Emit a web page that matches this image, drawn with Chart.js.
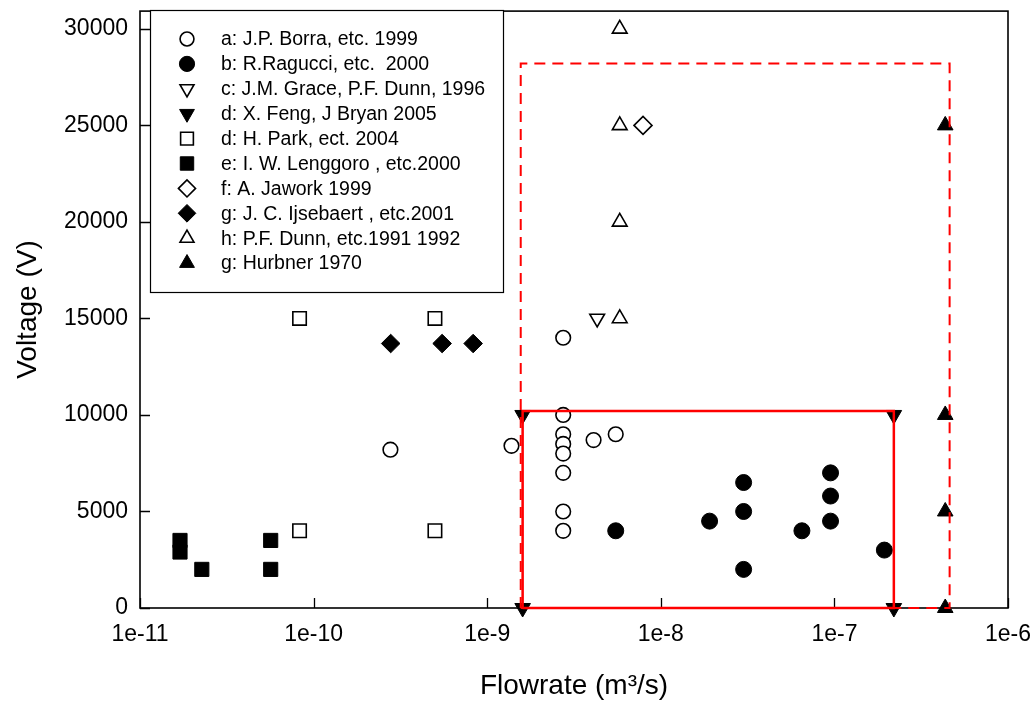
<!DOCTYPE html>
<html>
<head>
<meta charset="utf-8">
<script src="https://cdn.jsdelivr.net/npm/chart.js@4.4.1/dist/chart.umd.min.js"></script>
<style>
  html, body { margin: 0; padding: 0; background: #fff; }
  #wrap { width: 1036px; height: 708px; }
</style>
</head>
<body>
<div id="wrap"><canvas id="chart"></canvas></div>
<script>
// values: flowrate in m3/s, voltage in V
var borraX = [2.77e-10, 1.38e-9, 2.74e-9, 2.74e-9, 2.74e-9, 2.74e-9, 2.74e-9, 2.74e-9, 2.74e-9, 2.74e-9, 4.1e-9, 5.5e-9];
var borraY = [8200, 8400, 14000, 10000, 9000, 8500, 8000, 7000, 5000, 4000, 8700, 9000];
var raguX = [5.5e-9, 1.91e-8, 3.0e-8, 3.0e-8, 3.0e-8, 6.5e-8, 9.5e-8, 9.5e-8, 9.5e-8, 1.94e-7];
var raguY = [4000, 4500, 6500, 5000, 2000, 4000, 7000, 5800, 4500, 3000];
var graceX = [4.3e-9];
var graceY = [15000];
var fengX = [1.6e-9, 1.6e-9, 2.2e-7, 2.2e-7];
var fengY = [0, 10000, 10000, 0];
var parkX = [8.3e-11, 5.0e-10, 8.3e-11, 5.0e-10];
var parkY = [15000, 15000, 4000, 4000];
var lengX = [1.7e-11, 1.7e-11, 2.27e-11, 5.66e-11, 5.66e-11];
var lengY = [3500, 2900, 2000, 3500, 2000];
var jaworkX = [7.9e-9];
var jaworkY = [25000];
var ijseX = [2.78e-10, 5.5e-10, 8.3e-10];
var ijseY = [13700, 13700, 13700];
var dunnX = [5.8e-9, 5.8e-9, 5.8e-9, 5.8e-9];
var dunnY = [30000, 25000, 20000, 15000];
var hurbX = [4.35e-7, 4.35e-7, 4.35e-7, 4.35e-7];
var hurbY = [25000, 10000, 5000, 0];

// the two red regions (corners in data units)
var solidBoxX = [1.6e-9, 2.2e-7];
var solidBoxY = [0, 10200];
var dashBoxX = [1.56e-9, 4.61e-7];
var dashBoxY = [0, 28200];

var xTicks = [1e-11, 1e-10, 1e-9, 1e-8, 1e-7, 1e-6];
var xTickLabels = ['1e-11', '1e-10', '1e-9', '1e-8', '1e-7', '1e-6'];
var yTicks = [0, 5000, 10000, 15000, 20000, 25000, 30000];

var seriesNames = [
  'a: J.P. Borra, etc. 1999',
  'b: R.Ragucci, etc.  2000',
  'c: J.M. Grace, P.F. Dunn, 1996',
  'd: X. Feng, J Bryan 2005',
  'd: H. Park, ect. 2004',
  'e: I. W. Lenggoro , etc.2000',
  'f: A. Jawork 1999',
  'g: J. C. Ijsebaert , etc.2001',
  'h: P.F. Dunn, etc.1991 1992',
  'g: Hurbner 1970'
];
var seriesX = [borraX, raguX, graceX, fengX, parkX, lengX, jaworkX, ijseX, dunnX, hurbX];
var seriesY = [borraY, raguY, graceY, fengY, parkY, lengY, jaworkY, ijseY, dunnY, hurbY];

// marker looks, same order as above
var markers = [
  { style: 'circle', r: 7.3, rot: 0, fill: false },
  { style: 'circle', r: 8, rot: 0, fill: true },
  { style: 'triangle', r: 8.5, rot: 180, fill: false },
  { style: 'triangle', r: 9, rot: 180, fill: true },
  { style: 'rect', r: 9.5, rot: 0, fill: false },
  { style: 'rect', r: 10, rot: 0, fill: true },
  { style: 'rectRot', r: 9, rot: 0, fill: false },
  { style: 'rectRot', r: 9.3, rot: 0, fill: true },
  { style: 'triangle', r: 8.5, rot: 0, fill: false },
  { style: 'triangle', r: 9, rot: 0, fill: true }
];

var FONT = '"Liberation Sans", Arial, Helvetica, sans-serif';

function pts(xs, ys) {
  return xs.map(function (x, i) { return { x: x, y: ys[i] }; });
}
function box(bx, by) {
  return [
    { x: bx[0], y: by[0] }, { x: bx[0], y: by[1] },
    { x: bx[1], y: by[1] }, { x: bx[1], y: by[0] }, { x: bx[0], y: by[0] }
  ];
}

var datasets = [];
datasets.push({
  label: 'dashed', data: box(dashBoxX, dashBoxY), showLine: true, pointRadius: 0,
  borderColor: '#ff0000', borderWidth: 2, borderDash: [11, 7], clip: false, order: 0
});
datasets.push({
  label: 'solid', data: box(solidBoxX, solidBoxY), showLine: true, pointRadius: 0,
  borderColor: '#ff0000', borderWidth: 2.5, clip: false, order: 1
});
seriesNames.forEach(function (name, i) {
  var m = markers[i];
  datasets.push({
    label: name,
    data: pts(seriesX[i], seriesY[i]),
    pointStyle: m.style,
    pointRadius: m.r,
    rotation: m.rot,
    backgroundColor: m.fill ? '#000' : '#fff',
    borderColor: '#000',
    borderWidth: m.fill ? 1 : 1.6,
    clip: false,
    order: 2 + i
  });
});

// frame around the plot plus inward ticks
var framePlugin = {
  id: 'frame',
  beforeDatasetsDraw: function (chart) {
    var c = chart.ctx, a = chart.chartArea;
    var xs = chart.scales.x, ys = chart.scales.y;
    c.save();
    c.strokeStyle = '#000';
    c.lineWidth = 1.6;
    c.strokeRect(a.left, a.top, a.right - a.left, a.bottom - a.top);
    c.lineWidth = 1.3;
    c.beginPath();
    xs.ticks.forEach(function (t) {
      var px = Math.round(xs.getPixelForValue(t.value)) + 0.5;
      c.moveTo(px, a.bottom);
      c.lineTo(px, a.bottom - 10);
    });
    ys.ticks.forEach(function (t) {
      var py = Math.round(ys.getPixelForValue(t.value)) + 0.5;
      c.moveTo(a.left, py);
      c.lineTo(a.left + 10, py);
    });
    c.stroke();
    c.restore();
  }
};

// boxed legend in the upper left corner of the plot
var legendPlugin = {
  id: 'boxLegend',
  afterDraw: function (chart) {
    var c = chart.ctx;
    var left = 150, top = 10, w = 353, h = 282;
    c.save();
    c.fillStyle = '#fff';
    c.fillRect(left, top, w, h);
    c.strokeStyle = '#000';
    c.lineWidth = 1.2;
    c.strokeRect(left + 0.5, top + 0.5, w, h);
    c.font = '19.5px ' + FONT;
    c.textBaseline = 'middle';
    seriesNames.forEach(function (name, i) {
      var m = markers[i];
      var y = 39 + i * 24.9;
      c.fillStyle = m.fill ? '#000' : '#fff';
      c.strokeStyle = '#000';
      c.lineWidth = m.fill ? 1 : 1.6;
      Chart.helpers.drawPoint(c, {
        pointStyle: m.style, radius: m.r * 0.95, rotation: m.rot, borderWidth: c.lineWidth
      }, 187, y);
      c.fillStyle = '#000';
      c.fillText(name, 221, y + 1);
    });
    c.restore();
  }
};

function noEdgePadding(s) {
  s.paddingTop = 0;
  s.paddingBottom = 0;
  s.paddingLeft = 0;
  s.paddingRight = 0;
}

new Chart(document.getElementById('chart'), {
  type: 'scatter',
  data: { datasets: datasets },
  plugins: [framePlugin, legendPlugin],
  options: {
    responsive: true,
    maintainAspectRatio: false,
    animation: false,
    layout: { padding: { top: 4, right: 28, left: 0, bottom: 0 } },
    plugins: { legend: { display: false }, tooltip: { enabled: false } },
    scales: {
      x: {
        type: 'logarithmic',
        min: 1e-11,
        max: 1e-6,
        afterBuildTicks: function (s) { s.ticks = xTicks.map(function (v) { return { value: v }; }); },
        afterFit: function (s) { s.height = 100; noEdgePadding(s); },
        grid: { display: false, drawTicks: false },
        border: { display: false },
        ticks: {
          autoSkip: false, maxRotation: 0, padding: 13,
          color: '#000', font: { family: FONT, size: 23 },
          callback: function (v) { var i = xTicks.indexOf(v); return i >= 0 ? xTickLabels[i] : ''; }
        },
        title: {
          display: true, text: 'Flowrate (m³/s)', color: '#000',
          font: { family: FONT, size: 28 }, padding: { top: 0, bottom: 5 }
        }
      },
      y: {
        min: 0,
        max: 30920,
        afterBuildTicks: function (s) { s.ticks = yTicks.map(function (v) { return { value: v }; }); },
        afterFit: function (s) { s.width = 140; noEdgePadding(s); },
        grid: { display: false, drawTicks: false },
        border: { display: false },
        ticks: {
          padding: 12, color: '#000', font: { family: FONT, size: 23 },
          callback: function (v) { return String(v); }
        },
        title: {
          display: true, text: 'Voltage (V)', color: '#000',
          font: { family: FONT, size: 28 }, padding: { top: 11, bottom: 0 }
        }
      }
    }
  }
});
</script>
</body>
</html>
